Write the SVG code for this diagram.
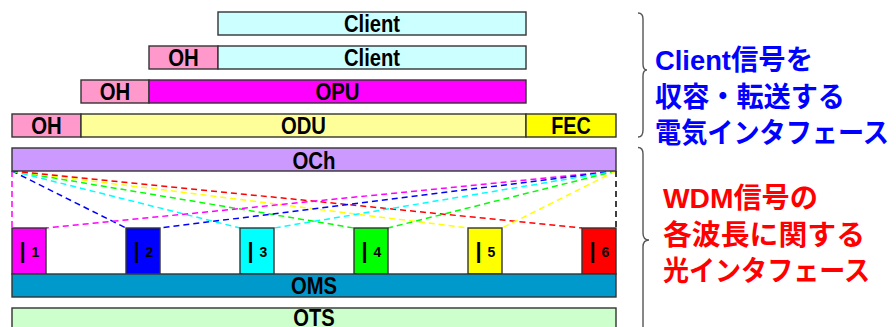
<svg xmlns="http://www.w3.org/2000/svg" width="896" height="327" viewBox="0 0 896 327">
<style>
.b{stroke:#333;stroke-width:1.4}
.t{font-family:"Liberation Sans",Arial,sans-serif;font-weight:bold;font-size:23px;text-anchor:middle;fill:#000}
.bar{font-family:"Liberation Sans",Arial,sans-serif;font-weight:bold;font-size:22px;text-anchor:middle;fill:#000}
.d{font-family:"Liberation Sans",Arial,sans-serif;font-weight:bold;font-size:14px;text-anchor:middle;fill:#000}
.j{font-family:"Liberation Sans","Noto Sans CJK JP",sans-serif;font-weight:bold;font-size:28px}
.dl{fill:none;stroke-width:1.5;stroke-dasharray:6 4}
.br{fill:none;stroke:#555;stroke-width:1.4}
</style>
<rect width="896" height="327" fill="#fff"/>
<g id="connectors">
<line class="dl" stroke="#ff00ff" x1="12" y1="171" x2="12" y2="228"/>
<line class="dl" stroke="#0000ff" x1="12" y1="171" x2="126" y2="228"/>
<line class="dl" stroke="#00ffff" x1="12" y1="171" x2="240" y2="228"/>
<line class="dl" stroke="#00ff00" x1="12" y1="171" x2="354" y2="228"/>
<line class="dl" stroke="#ffff00" x1="12" y1="171" x2="468" y2="228"/>
<line class="dl" stroke="#ff0000" x1="12" y1="171" x2="582" y2="228"/>
<line class="dl" stroke="#ff00ff" x1="616" y1="171" x2="46" y2="228"/>
<line class="dl" stroke="#0000ff" x1="616" y1="171" x2="160" y2="228"/>
<line class="dl" stroke="#00ffff" x1="616" y1="171" x2="274" y2="228"/>
<line class="dl" stroke="#00ff00" x1="616" y1="171" x2="388" y2="228"/>
<line class="dl" stroke="#ffff00" x1="616" y1="171" x2="502" y2="228"/>
<line class="dl" stroke="#000" x1="616" y1="171" x2="616" y2="228"/>
</g>
<g id="client1"><rect class="b" x="218" y="12" width="308" height="23" fill="#ccffff"/><text class="t" x="372" y="32" textLength="56" lengthAdjust="spacingAndGlyphs">Client</text></g>
<g id="oh2"><rect class="b" x="149" y="46" width="69" height="23" fill="#ff99cc"/><text class="t" x="183.5" y="66" textLength="30.5" lengthAdjust="spacingAndGlyphs">OH</text></g>
<g id="client2"><rect class="b" x="218" y="46" width="308" height="23" fill="#ccffff"/><text class="t" x="372" y="66" textLength="56" lengthAdjust="spacingAndGlyphs">Client</text></g>
<g id="oh3"><rect class="b" x="81" y="80" width="68" height="23" fill="#ff99cc"/><text class="t" x="115" y="100" textLength="30.5" lengthAdjust="spacingAndGlyphs">OH</text></g>
<g id="opu"><rect class="b" x="149" y="80" width="377" height="23" fill="#ff00ff"/><text class="t" x="337.5" y="100" textLength="44" lengthAdjust="spacingAndGlyphs">OPU</text></g>
<g id="oh4"><rect class="b" x="12" y="114" width="69" height="23" fill="#ff99cc"/><text class="t" x="46.5" y="134" textLength="30.5" lengthAdjust="spacingAndGlyphs">OH</text></g>
<g id="odu"><rect class="b" x="81" y="114" width="445" height="23" fill="#ffff99"/><text class="t" x="303.5" y="134" textLength="45" lengthAdjust="spacingAndGlyphs">ODU</text></g>
<g id="fec"><rect class="b" x="526" y="114" width="90" height="23" fill="#ffff00"/><text class="t" x="571" y="134" textLength="39.5" lengthAdjust="spacingAndGlyphs">FEC</text></g>
<g id="och"><rect class="b" x="12" y="148" width="604" height="23" fill="#cc99ff"/><text class="t" x="314" y="169" textLength="43" lengthAdjust="spacingAndGlyphs">OCh</text></g>
<g id="l1"><rect class="b" x="12" y="228" width="34" height="46" fill="#ff00ff"/><text class="bar" x="22.7" y="258">|</text><text class="d" x="35.5" y="257">1</text></g>
<g id="l2"><rect class="b" x="126" y="228" width="34" height="46" fill="#0000ff"/><text class="bar" x="136.7" y="258">|</text><text class="d" x="149.5" y="257">2</text></g>
<g id="l3"><rect class="b" x="240" y="228" width="34" height="46" fill="#00ffff"/><text class="bar" x="250.7" y="258">|</text><text class="d" x="263.5" y="257">3</text></g>
<g id="l4"><rect class="b" x="354" y="228" width="34" height="46" fill="#00ff00"/><text class="bar" x="364.7" y="258">|</text><text class="d" x="377.5" y="257">4</text></g>
<g id="l5"><rect class="b" x="468" y="228" width="34" height="46" fill="#ffff00"/><text class="bar" x="478.7" y="258">|</text><text class="d" x="491.5" y="257">5</text></g>
<g id="l6"><rect class="b" x="582" y="228" width="34" height="46" fill="#ff0000"/><text class="bar" x="592.7" y="258">|</text><text class="d" x="605.5" y="257">6</text></g>
<g id="oms"><rect class="b" x="12" y="274" width="604" height="23" fill="#0099cc"/><text class="t" x="314" y="294" textLength="46" lengthAdjust="spacingAndGlyphs">OMS</text></g>
<g id="ots"><rect class="b" x="12" y="308" width="604" height="23" fill="#ccffcc"/><text class="t" x="314" y="326" textLength="41.5" lengthAdjust="spacingAndGlyphs">OTS</text></g>
<g id="brace1"><path class="br" d="M638,13 Q643,13 643,19 L643,64 Q643,70 647,70 Q643,70 643,76 L643,130 Q643,137 638,137"/></g>
<g id="brace2"><path class="br" d="M638,147.5 Q643,147.5 643,154 L643,233 Q643,240 649,240 Q643,240 643,247 L643,330"/></g>
<g id="label1" class="j" fill="#0000ff">
<text x="655" y="70" textLength="158" lengthAdjust="spacingAndGlyphs">Client信号を</text>
<text x="655" y="107" textLength="190" lengthAdjust="spacingAndGlyphs">収容・転送する</text>
<text x="655" y="143" textLength="234" lengthAdjust="spacingAndGlyphs">電気インタフェース</text>
</g>
<g id="label2" class="j" fill="#ff0000">
<text x="663" y="208" textLength="155" lengthAdjust="spacingAndGlyphs">WDM信号の</text>
<text x="663" y="245" textLength="202" lengthAdjust="spacingAndGlyphs">各波長に関する</text>
<text x="663" y="281" textLength="207" lengthAdjust="spacingAndGlyphs">光インタフェース</text>
</g>
</svg>
